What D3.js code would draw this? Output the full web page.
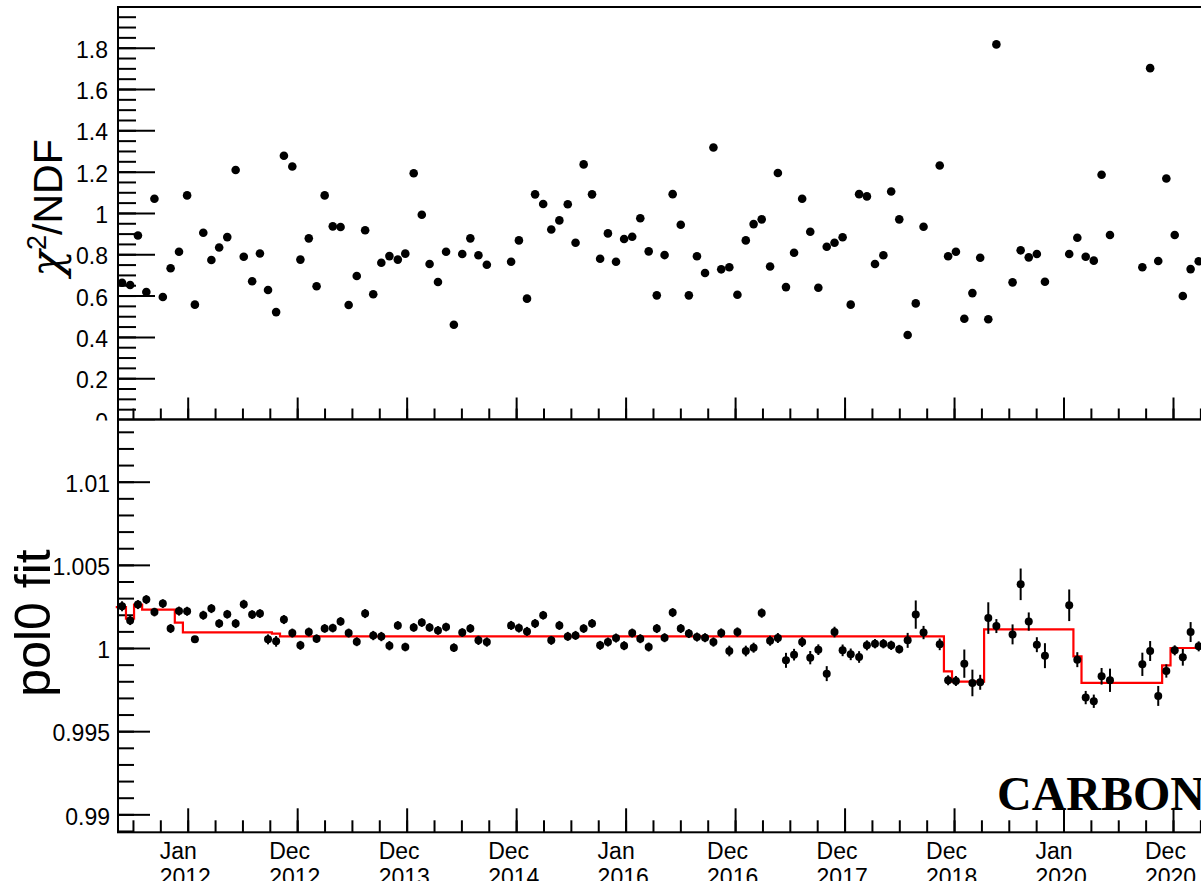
<!DOCTYPE html>
<html>
<head>
<meta charset="utf-8">
<script src="https://d3js.org/d3.v7.min.js"></script>
<style>
  body { margin: 0; background: #fff; }
  svg text { font-family: "Liberation Sans", Arial, Helvetica, sans-serif; fill: #000; }
  .axis path.domain { display: none; }
  .axis line { stroke: #000; stroke-width: 2; }
</style>
</head>
<body>
<svg id="chart" width="1201" height="881"></svg>
<script>

// run dates, in days after baseDate
const baseDate = "2012-01-01T00:00Z";
const runDays = [-219,-192,-166,-138,-111,-83,-57,-29,-2,24,52,79,105,132,160,187,215,241,268,295,
  321,349,376,404,430,457,484,510,537,564,592,619,646,673,701,726,754,781,807,835,862,888,916,943,970,998,
  1079,1105,1132,1159,1186,1213,1240,1268,1294,1321,1349,1376,1402,1429,1456,1483,1510,1538,1565,1591,
  1618,1645,1672,1699,1726,1754,1780,1807,1834,1862,1888,1915,1943,1969,1996,2023,2050,2077,2104,2132,
  2158,2185,2212,2240,2266,2293,2321,2347,2374,2402,2429,2455,2509,2537,2563,2591,2618,2644,2671,2698,
  2752,2779,2806,2833,2860,2941,2968,2996,3023,3049,3077,3185,3211,3238,3265,3293,3320,3346,3373];

// chi2/NDF of each run
const chi2ndf = [0.662,0.651,0.891,0.617,1.069,0.593,0.732,0.812,1.085,0.556,0.904,0.772,0.833,0.883,1.208,
  0.788,0.669,0.804,0.627,0.520,1.277,1.225,0.774,0.877,0.645,1.085,0.935,0.932,0.554,0.695,0.916,0.606,
  0.759,0.791,0.774,0.803,1.192,0.991,0.753,0.666,0.812,0.459,0.801,0.877,0.795,0.749,0.764,0.867,0.585,
  1.090,1.043,0.920,0.964,1.042,0.856,1.235,1.090,0.778,0.901,0.764,0.874,0.885,0.974,0.814,0.601,0.796,
  1.091,0.943,0.601,0.790,0.709,1.317,0.727,0.737,0.604,0.867,0.946,0.969,0.741,1.193,0.641,0.807,1.069,
  0.909,0.638,0.836,0.856,0.882,0.556,1.091,1.080,0.753,0.795,1.104,0.969,0.409,0.562,0.933,1.230,0.790,
  0.812,0.488,0.612,0.783,0.485,1.816,0.664,0.819,0.785,0.801,0.667,0.801,0.880,0.788,0.769,1.185,0.893,
  0.737,1.701,0.767,1.167,0.893,0.598,0.728,0.766];

// pol0 fit value of each run and its error
const pol0 = [1.00251,1.00166,1.00261,1.00291,1.00216,1.00267,1.00117,1.00222,1.00221,1.00052,1.00197,
  1.00237,1.00147,1.00203,1.00147,1.00263,1.00201,1.00207,1.00052,1.00040,1.00171,1.00090,1.00016,1.00096,
  1.00056,1.00118,1.00120,1.00160,1.00090,1.00038,1.00207,1.00075,1.00069,1.00014,1.00136,1.00006,1.00124,
  1.00153,1.00124,1.00106,1.00126,1.00002,1.00093,1.00118,1.00046,1.00036,1.00136,1.00120,1.00100,1.00147,
  1.00197,1.00046,1.00136,1.00070,1.00076,1.00117,1.00148,1.00016,1.00036,1.00060,1.00014,1.00090,1.00056,
  1.00006,1.00117,1.00062,1.00213,1.00117,1.00087,1.00066,1.00062,1.00036,1.00090,0.99982,1.00096,0.99982,
  1.00002,1.00210,1.00044,1.00060,0.99926,0.99960,1.00036,0.99942,0.99990,0.99846,1.00096,0.99986,0.99962,
  0.99946,1.00016,1.00026,1.00026,1.00016,0.99993,1.00046,1.00201,1.00093,1.00022,0.99806,0.99802,0.99906,
  0.99790,0.99794,1.00180,1.00132,1.00082,1.00383,1.00159,1.00020,0.99954,1.00257,0.99930,0.99702,0.99680,
  0.99830,0.99806,0.99902,0.99982,0.99712,0.99862,0.99986,0.99944,1.00096,1.00010];

const pol0Err = [0.00030,0.00028,0.00027,0.00027,0.00026,0.00026,0.00027,0.00027,0.00027,0.00010,0.00027,
  0.00027,0.00026,0.00026,0.00027,0.00027,0.00026,0.00026,0.00030,0.00032,0.00027,0.00027,0.00027,0.00027,
  0.00026,0.00026,0.00026,0.00026,0.00027,0.00027,0.00027,0.00028,0.00028,0.00028,0.00026,0.00026,0.00026,
  0.00026,0.00026,0.00026,0.00026,0.00026,0.00026,0.00026,0.00028,0.00028,0.00027,0.00027,0.00027,0.00027,
  0.00026,0.00027,0.00027,0.00027,0.00027,0.00026,0.00026,0.00027,0.00027,0.00027,0.00027,0.00027,0.00027,
  0.00027,0.00027,0.00027,0.00027,0.00027,0.00027,0.00027,0.00027,0.00028,0.00028,0.00032,0.00028,0.00032,
  0.00030,0.00028,0.00030,0.00030,0.00045,0.00035,0.00030,0.00040,0.00032,0.00045,0.00032,0.00035,0.00035,
  0.00035,0.00030,0.00028,0.00028,0.00028,0.00026,0.00045,0.00085,0.00040,0.00035,0.00030,0.00030,0.00085,
  0.00080,0.00045,0.00095,0.00042,0.00060,0.00095,0.00055,0.00045,0.00075,0.00095,0.00045,0.00040,0.00040,
  0.00050,0.00070,0.00070,0.00060,0.00060,0.00040,0.00030,0.00050,0.00060,0.00030];

// pol0 fit per period (step function): period start, in days after baseDate, and level
const stepStartDays = [-240,-206,-179,-152,-43,-16,281,308,2523,2550,2657,2955,2982,3251,3279];
const stepLevels = [1.00246,1.00177,1.00261,1.00231,1.00153,1.00094,1.00087,1.00070,0.99860,0.99798,
  1.00112,0.99950,0.99790,0.99896,1.00000];
const stepEndDay = 3500;

// time axis primary divisions
const xTickDates = ["2012-01-01T00:00Z","2012-12-31T06:00Z","2013-12-31T12:00Z","2014-12-31T18:00Z",
  "2016-01-01T00:00Z","2016-12-31T06:00Z","2017-12-31T12:00Z","2018-12-31T18:00Z",
  "2020-01-01T00:00Z","2020-12-31T06:00Z"];

const chiTicks = [0,0.2,0.4,0.6,0.8,1,1.2,1.4,1.6,1.8];
const fitTicks = [0.99,0.995,1,1.005,1.01];

// ---------------------------------------------------------------------

const svg = d3.select("svg#chart");
const W = 1201, H = 881;
const left = 118, right = 1260;
const topY = 7, midY = 419.5, botY = 832.3;

const base = new Date(baseDate);
const day = d => d3.utcDay.offset(base, d);
const majors = xTickDates.map(s => new Date(s));

const x = d3.scaleUtc().domain([majors[0], majors[9]]).range([187.7, 1173]);
const quarter = (majors[9] - majors[0]) / 36;
const minors = d3.range(-2, 42).map(k => new Date(+majors[0] + k * quarter));

const yTop = d3.scaleLinear().domain([0, 1.997]).range([midY, topY]);
const yBot = d3.scaleLinear().domain([0.98892, 1.01374]).range([botY, midY]);

const runs = runDays.map((d, i) => ({
  date: day(d), chi: chi2ndf[i], fit: pol0[i], err: pol0Err[i]
}));

svg.append("rect").attr("width", W).attr("height", H).attr("fill", "white");

function drawYAxis(g, scale, majorVals, minorVals, majLen, minLen, pad) {
  g.append("g").attr("class", "axis")
    .attr("transform", "translate(" + left + ",0)")
    .call(d3.axisRight(scale).tickValues(minorVals).tickSize(minLen).tickFormat(""));
  g.append("g").attr("class", "axis")
    .attr("transform", "translate(" + left + ",0)")
    .call(d3.axisRight(scale).tickValues(majorVals).tickSize(majLen).tickFormat(""));
  let labels = g.append("g").attr("class", "axis")
    .attr("transform", "translate(" + left + ",0)")
    .call(d3.axisLeft(scale).tickValues(majorVals).tickSize(0).tickPadding(pad).tickFormat(d3.format("")));
  labels.attr("font-family", null).attr("font-size", null);
  labels.selectAll("text").attr("font-size", 23).attr("dy", "0.42em");
}

function drawXTicks(g, yPos, majLen, minLen) {
  g.append("g").attr("class", "axis")
    .attr("transform", "translate(0," + yPos + ")")
    .call(d3.axisTop(x).tickValues(minors).tickSize(minLen).tickFormat(""));
  g.append("g").attr("class", "axis")
    .attr("transform", "translate(0," + yPos + ")")
    .call(d3.axisTop(x).tickValues(majors).tickSize(majLen).tickFormat(""));
}

// ---------------- top pad: chi2/NDF
const topPad = svg.append("g").attr("id", "topPad");

drawYAxis(topPad, yTop, chiTicks, d3.range(0, 2.0, 0.05), 37, 18, 10);
drawXTicks(topPad, midY, 22, 11);

topPad.append("g").selectAll("circle").data(runs)
  .join("circle")
  .attr("cx", d => x(d.date))
  .attr("cy", d => yTop(d.chi))
  .attr("r", 4.3)
  .attr("fill", "black");

let chiTitle = topPad.append("text")
  .attr("transform", "translate(62,208) rotate(-90)")
  .attr("text-anchor", "middle")
  .attr("font-size", 41);
chiTitle.append("tspan")
  .style("font-family", "'DejaVu Serif', 'Liberation Serif', serif")
  .style("font-style", "italic")
  .attr("font-size", 44)
  .text("χ");
chiTitle.append("tspan").attr("font-size", 27).attr("dy", "-0.6em").text("2");
chiTitle.append("tspan").attr("dy", "0.39em").text("/NDF");

topPad.append("rect")
  .attr("x", left).attr("y", topY)
  .attr("width", right - left).attr("height", midY - topY)
  .attr("fill", "none").attr("stroke", "black").attr("stroke-width", 2);

// ---------------- bottom pad: pol0 fit
const botPad = svg.append("g").attr("id", "botPad");
botPad.append("rect").attr("x", 0).attr("y", midY + 1).attr("width", W).attr("height", H - midY)
  .attr("fill", "white");

drawYAxis(botPad, yBot, fitTicks, d3.range(0.989, 1.0135, 0.001), 32, 16, 8);
drawXTicks(botPad, botY, 24, 12);

// step function of the fit
const steps = stepStartDays.map((d, i) => ({date: day(d), v: stepLevels[i]}));
steps.push({date: day(stepEndDay), v: stepLevels[stepLevels.length - 1]});

botPad.append("path")
  .datum(steps)
  .attr("fill", "none")
  .attr("stroke", "#ff0000")
  .attr("stroke-width", 2.2)
  .attr("d", d3.line().curve(d3.curveStepAfter).x(d => x(d.date)).y(d => yBot(d.v)));

botPad.append("g").selectAll("line").data(runs)
  .join("line")
  .attr("x1", d => x(d.date)).attr("x2", d => x(d.date))
  .attr("y1", d => yBot(d.fit - d.err)).attr("y2", d => yBot(d.fit + d.err))
  .attr("stroke", "black").attr("stroke-width", 2);

botPad.append("g").selectAll("circle").data(runs)
  .join("circle")
  .attr("cx", d => x(d.date))
  .attr("cy", d => yBot(d.fit))
  .attr("r", 4)
  .attr("fill", "black");

// time labels
const monthFmt = d3.utcFormat("%b"), yearFmt = d3.utcFormat("%Y");
let xl = botPad.append("g").selectAll("text").data(majors)
  .join("text")
  .attr("font-size", 23)
  .attr("y", 859);
xl.append("tspan").attr("x", d => x(d) - 28).text(d => monthFmt(d));
xl.append("tspan").attr("x", d => x(d) - 28).attr("dy", 26).text(d => yearFmt(d));

botPad.append("text")
  .attr("transform", "translate(50,623) rotate(-90)")
  .attr("text-anchor", "middle")
  .attr("font-size", 50)
  .text("pol0 fit");

botPad.append("text")
  .attr("x", 997).attr("y", 810)
  .style("font-family", "'Liberation Serif', 'Times New Roman', serif")
  .style("font-weight", "bold")
  .attr("font-size", 48)
  .text("CARBON");

botPad.append("rect")
  .attr("x", left).attr("y", midY)
  .attr("width", right - left).attr("height", botY - midY)
  .attr("fill", "none").attr("stroke", "black").attr("stroke-width", 2);

</script>
</body>
</html>
